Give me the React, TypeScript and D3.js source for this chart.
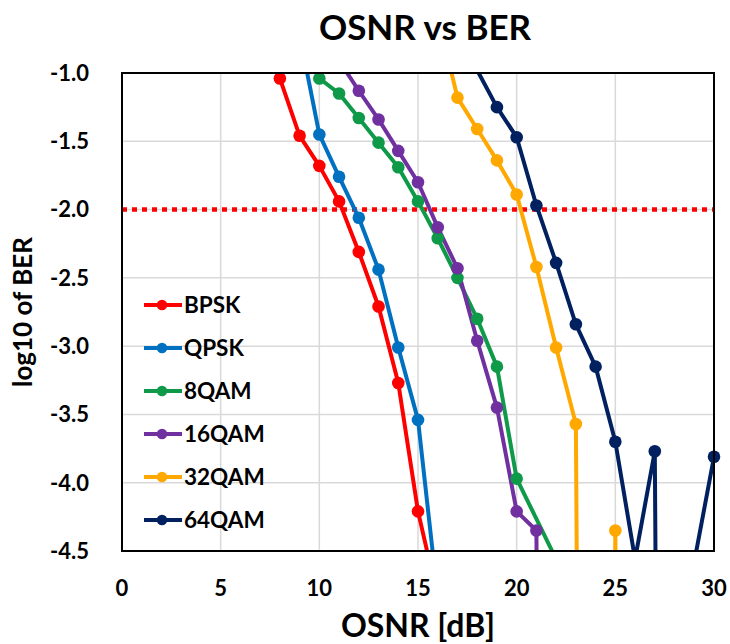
import React from "react";
import * as d3 from "d3";

const seriesNames = ["BPSK", "QPSK", "8QAM", "16QAM", "32QAM", "64QAM"];
const seriesColors = ["#FF0000", "#0070C0", "#0E9A48", "#7030A0", "#FFA800", "#002060"];

const bpskX = [8, 9, 10, 11, 12, 13, 14, 15, 16];
const bpskY = [-1.04, -1.46, -1.68, -1.94, -2.31, -2.71, -3.27, -4.21, -4.84];
const qpskX = [9, 10, 11, 12, 13, 14, 15, 16];
const qpskY = [-0.72, -1.45, -1.76, -2.06, -2.44, -3.01, -3.54, -4.84];
const qam8X = [10, 11, 12, 13, 14, 15, 16, 17, 18, 19, 20, 22];
const qam8Y = [-1.04, -1.15, -1.33, -1.51, -1.69, -1.94, -2.21, -2.5, -2.8, -3.15, -3.97, -4.56];
const qam16X = [11, 12, 13, 14, 15, 16, 17, 18, 19, 20, 21, 22];
const qam16Y = [-0.91, -1.13, -1.34, -1.57, -1.8, -2.13, -2.43, -2.96, -3.45, -4.21, -4.35, -25];
const qam32X = [16, 17, 18, 19, 20, 21, 22, 23, 24, 25, 26];
const qam32Y = [-0.58, -1.18, -1.41, -1.64, -1.89, -2.42, -3.01, -3.57, -25, -4.35, -25];
const qam64X = [18, 19, 20, 21, 22, 23, 24, 25, 26, 27, 28, 29, 30];
const qam64Y = [-0.98, -1.25, -1.47, -1.97, -2.39, -2.84, -3.15, -3.7, -4.56, -3.77, -25, -4.58, -3.81];

const seriesX = [bpskX, qpskX, qam8X, qam16X, qam32X, qam64X];
const seriesY = [bpskY, qpskY, qam8Y, qam16Y, qam32Y, qam64Y];

const xTicks = [0, 5, 10, 15, 20, 25, 30];
const yTicks = [-1.0, -1.5, -2.0, -2.5, -3.0, -3.5, -4.0, -4.5];
const thresholdY = -2.0;

const W = 730;
const H = 644;
const left = 122;
const right = 714;
const top = 73;
const bottom = 551;
const FONT = "Lato, 'Open Sans', sans-serif";

export default function App() {
  const x = d3.scaleLinear().domain([0, 30]).range([left, right]);
  const y = d3.scaleLinear().domain([-1, -4.5]).range([top, bottom]);

  const line = d3
    .line<[number, number]>()
    .x((d) => x(d[0]))
    .y((d) => y(d[1]));

  const inRange = (v: number) => v <= -1 + 1e-9 && v >= -4.5 - 1e-9;

  return (
    <div style={{ position: "absolute", left: 0, top: 0 }}>
      <svg width={W} height={H} style={{ display: "block", background: "#fff" }}>
        <defs>
          <clipPath id="plotClip">
            <rect x={left} y={top} width={right - left} height={bottom - top} />
          </clipPath>
        </defs>
        <rect x={0} y={0} width={W} height={H} fill="#fff" />
        {/* gridlines */}
        {xTicks.map((t) => (
          <line key={"gx" + t} x1={x(t)} x2={x(t)} y1={top} y2={bottom} stroke="#D9D9D9" strokeWidth={1.5} />
        ))}
        {yTicks.map((t) => (
          <line key={"gy" + t} x1={left} x2={right} y1={y(t)} y2={y(t)} stroke="#D9D9D9" strokeWidth={1.5} />
        ))}
        {/* threshold */}
        <line
          x1={left}
          x2={right}
          y1={y(thresholdY)}
          y2={y(thresholdY)}
          stroke="#FF0000"
          strokeWidth={4.5}
          strokeDasharray="5,5"
        />
        {/* series lines */}
        <g clipPath="url(#plotClip)">
          {seriesNames.map((name, i) => {
            const pts: [number, number][] = seriesX[i].map((xv, j) => [xv, seriesY[i][j]]);
            return (
              <path
                key={"l" + name}
                d={line(pts) || ""}
                fill="none"
                stroke={seriesColors[i]}
                strokeWidth={4}
                strokeLinejoin="round"
              />
            );
          })}
        </g>
        {/* markers */}
        {seriesNames.map((name, i) => (
          <g key={"m" + name}>
            {seriesX[i].map((xv, j) =>
              inRange(seriesY[i][j]) ? (
                <circle key={j} cx={x(xv)} cy={y(seriesY[i][j])} r={6.3} fill={seriesColors[i]} />
              ) : null
            )}
          </g>
        ))}
        {/* border */}
        <rect x={left} y={top} width={right - left} height={bottom - top} fill="none" stroke="#000" strokeWidth={2} />
        {/* y tick labels */}
        {yTicks.map((t) => (
          <text
            key={"ty" + t}
            x={89}
            y={y(t)}
            dy="0.36em"
            textAnchor="end"
            fontFamily={FONT}
            fontWeight="bold"
            fontSize={22}
            fill="#000"
          >
            {t.toFixed(1)}
          </text>
        ))}
        {/* x tick labels */}
        {xTicks.map((t) => (
          <text
            key={"tx" + t}
            x={x(t)}
            y={596}
            textAnchor="middle"
            fontFamily={FONT}
            fontWeight="bold"
            fontSize={22}
            fill="#000"
          >
            {t}
          </text>
        ))}
        {/* title */}
        <text x={425} y={40} textAnchor="middle" fontFamily={FONT} fontWeight="bold" fontSize={35} fill="#000">
          OSNR vs BER
        </text>
        {/* axis titles */}
        <text x={418} y={637} textAnchor="middle" fontFamily={FONT} fontWeight="bold" fontSize={32} fill="#000">
          OSNR [dB]
        </text>
        <text
          transform={`translate(32,312) rotate(-90)`}
          textAnchor="middle"
          fontFamily={FONT}
          fontWeight="bold"
          fontSize={26}
          fill="#000"
        >
          log10 of BER
        </text>
        {/* legend */}
        {seriesNames.map((name, i) => {
          const ly = 305 + i * 43;
          return (
            <g key={"lg" + name}>
              <line x1={144} x2={182} y1={ly} y2={ly} stroke={seriesColors[i]} strokeWidth={4} />
              <circle cx={162} cy={ly} r={5.3} fill={seriesColors[i]} />
              <text x={184} y={ly} dy="0.36em" fontFamily={FONT} fontWeight="bold" fontSize={22.5} fill="#000">
                {name}
              </text>
            </g>
          );
        })}
      </svg>
    </div>
  );
}
